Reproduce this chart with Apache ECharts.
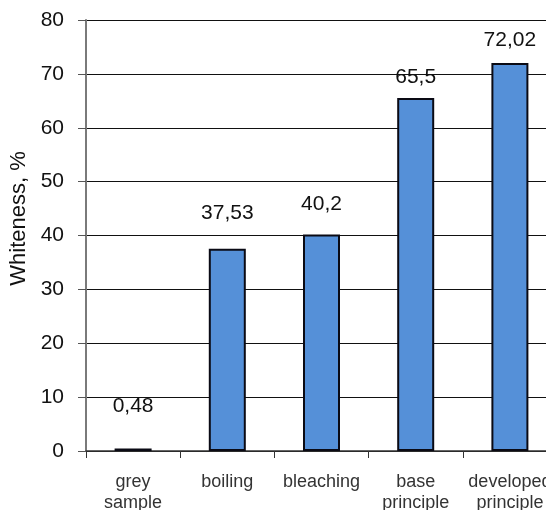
<!DOCTYPE html>
<html>
<head>
<meta charset="utf-8">
<script src="https://cdn.jsdelivr.net/npm/echarts@6/dist/echarts.min.js"></script>
<style>
html,body{margin:0;padding:0;background:#fff;overflow:hidden;}
#chart{width:546px;height:510px;}
</style>
</head>
<body>
<div id="chart"></div>
<script>
// Treatment stages and measured whiteness values
const categories = ['grey\nsample', 'boiling', 'bleaching', 'base\nprinciple', 'developed\nprinciple'];
const whiteness = [0.48, 37.53, 40.2, 65.5, 72.02];
const yTicks = [0, 10, 20, 30, 40, 50, 60, 70, 80];

const chart = echarts.init(document.getElementById('chart'));
const fmt = v => String(v).replace('.', ',');
const font = 'Liberation Sans, Arial, sans-serif';

// value labels sit at hand-tuned heights above each bar
const labelLift = [32, 25, 20, 10, 12];
const barData = whiteness.map((v, i) => ({ value: v, label: { distance: labelLift[i] } }));

chart.setOption({
  animation: false,
  // plot area runs past the right edge of the canvas
  grid: { left: 86, top: 20, width: 471, bottom: 59, containLabel: false, outerBoundsMode: 'none' },
  xAxis: {
    type: 'category',
    data: categories,
    axisLine: { show: true, lineStyle: { color: '#333', width: 1.5 } },
    axisTick: { show: true, length: 7, lineStyle: { color: '#333' } },
    axisLabel: {
      color: '#333', fontFamily: font, fontSize: 18,
      lineHeight: 21, margin: 21, interval: 0
    }
  },
  yAxis: {
    type: 'value',
    min: yTicks[0], max: yTicks[yTicks.length - 1], interval: 10,
    name: 'Whiteness, %',
    nameLocation: 'middle',
    nameGap: 51,
    // title sits a little above the middle of the axis
    nameTextStyle: { color: '#111', fontFamily: font, fontSize: 22, padding: [0, 0, 0, 34] },
    axisLine: { show: true, lineStyle: { color: '#7a7a7a', width: 2 } },
    axisTick: { show: true, inside: false, length: 8, lineStyle: { color: '#555' } },
    axisLabel: { color: '#111', fontFamily: font, fontSize: 21, margin: 22 },
    splitLine: { show: true, lineStyle: { color: '#111', width: 1 } }
  },
  series: [{
    type: 'bar',
    data: barData,
    barWidth: 37,
    itemStyle: { color: '#5590d8', borderColor: '#0a0a14', borderWidth: 2 },
    label: {
      show: true, position: 'top',
      color: '#111', fontFamily: font, fontSize: 21,
      formatter: p => fmt(p.value)
    }
  }]
});
</script>
</body>
</html>
